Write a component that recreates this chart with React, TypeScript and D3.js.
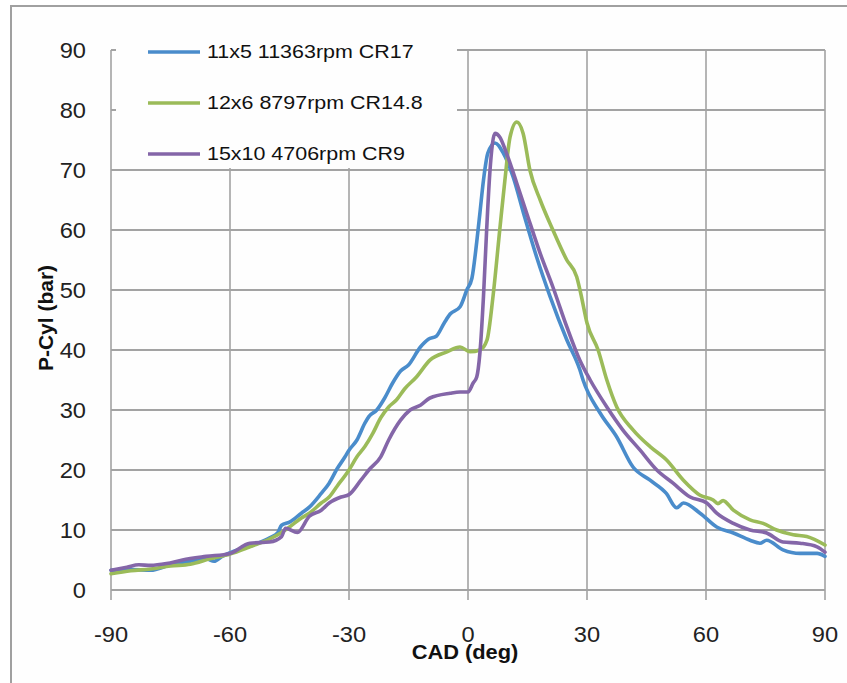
import React from "react";
import * as d3 from "d3";

const W = 847;
const H = 683;

const xTicks = [-90, -60, -30, 0, 30, 60, 90];
const yTicks = [0, 10, 20, 30, 40, 50, 60, 70, 80, 90];

const seriesNames = ["11x5 11363rpm CR17", "12x6 8797rpm CR14.8", "15x10 4706rpm CR9"];
const seriesColors = ["#4a8ccb", "#9bbb59", "#8466a8"];

const blue: [number, number][] = [
  [-90, 3.3], [-85, 3.4], [-80, 3.3], [-75, 4.2], [-70, 4.8], [-66, 5.2], [-64, 4.8], [-62, 5.6],
  [-60, 6.2], [-55, 7.3], [-50, 8.7], [-48, 9.5], [-47, 10.8], [-45, 11.3], [-42, 12.8], [-40, 13.8],
  [-37, 16.1], [-35, 17.8], [-33, 20.2], [-31, 22.2], [-30, 23.3], [-28, 25], [-26, 27.8], [-25, 28.9],
  [-23, 30], [-21, 32], [-19, 34.5], [-17, 36.5], [-15, 37.5], [-12, 40.5], [-10, 41.8], [-8, 42.3],
  [-6, 44.5], [-4.5, 46], [-2, 47.2], [-0.3, 50], [1, 52], [2.2, 58], [3, 62.8], [3.9, 68.3],
  [5, 72.8], [6.8, 74.5], [8.9, 72.8], [11.4, 68.8], [14, 62.8], [17.3, 55.5], [20.7, 48.9],
  [24.9, 41.7], [28.2, 36.7], [29, 35], [33.3, 29.5], [37.5, 25.5], [41.6, 20.5], [45.9, 18.3],
  [50, 16.1], [52.6, 13.7], [54.3, 14.5], [58.5, 12.8], [62.7, 10.5], [66.9, 9.5], [71.1, 8.3],
  [73.6, 7.8], [75.3, 8.3], [79.4, 6.7], [83.7, 6.1], [88, 6.1], [90, 5.6],
];

const green: [number, number][] = [
  [-90, 2.7], [-85, 3.2], [-80, 3.5], [-75, 4], [-70, 4.3], [-65, 5.2], [-60, 6], [-55, 7.2],
  [-50, 8.5], [-47, 9.6], [-45, 10.5], [-42, 12], [-40, 12.8], [-37, 14.5], [-35, 15.5], [-33, 17.3],
  [-30, 20], [-28, 22.2], [-26, 23.9], [-24, 26.1], [-22, 28.7], [-20, 30.5], [-18, 31.7], [-16, 33.5],
  [-13, 35.5], [-9.6, 38.3], [-5.3, 39.7], [-2, 40.5], [0.5, 39.7], [3, 40], [4.8, 41.7], [6.3, 48.9],
  [8, 60], [9.3, 68.3], [10.6, 75.5], [12.3, 78], [13.9, 76.1], [15.6, 70], [18.2, 65], [21.4, 60],
  [24.9, 55], [27.4, 52.2], [28.4, 49.5], [30, 44.5], [32.8, 40], [35, 35], [37.5, 30.5], [41.6, 26.7],
  [45.9, 23.9], [50, 21.7], [54.3, 18.3], [58.5, 15.8], [61.8, 15], [63, 14.4], [64.3, 14.9],
  [66.9, 13.3], [71.1, 11.7], [74.4, 11.1], [77.8, 10], [82, 9.2], [85.4, 8.9], [90, 7.5],
];

const purple: [number, number][] = [
  [-90, 3.3], [-86, 3.8], [-83, 4.2], [-80, 4.1], [-76, 4.4], [-72, 5], [-66, 5.6], [-60, 6.1],
  [-55, 7.8], [-50, 8], [-47, 8.9], [-46, 10.3], [-43, 9.6], [-40, 12.3], [-37, 13.3], [-35, 14.5],
  [-32, 15.5], [-30, 15.9], [-27, 18.3], [-25, 20], [-22, 22.2], [-20, 25], [-17, 28.3], [-14.6, 30],
  [-12, 30.8], [-9.6, 32], [-4.5, 32.8], [-2, 33], [0, 33], [1.3, 34.5], [2.2, 35.5], [3, 39.5],
  [3.9, 48.9], [4.7, 60], [5.5, 69.5], [6.8, 76.1], [8, 75.5], [9.7, 72.8], [12.3, 67.8], [14.8, 62.8],
  [18.2, 56.1], [21.4, 50.5], [24.9, 43.9], [28.2, 38.3], [30.8, 35], [35, 30.5], [39, 26.7],
  [43.4, 23.3], [47.6, 20], [51.7, 17.8], [56, 15.5], [60.2, 14.5], [62.7, 12.8], [66.9, 11.1],
  [71.1, 10], [75.3, 9.5], [79.4, 8], [83.7, 7.8], [88, 7.2], [90, 6.3],
];

const allSeries = [blue, green, purple];

const FONT = "'Liberation Sans', Arial, sans-serif";

export default function App() {
  const x = d3.scaleLinear().domain([-90, 90]).range([111, 825]);
  const y = d3.scaleLinear().domain([0, 90]).range([590, 50]);
  const line = d3
    .line<[number, number]>()
    .x((d) => x(d[0]))
    .y((d) => y(d[1]))
    .curve(d3.curveMonotoneX);

  const gridColor = "#a3a3a3";
  const sx = 1.1;

  return (
    <svg
      width={W}
      height={H}
      style={{ position: "absolute", left: 0, top: 0, background: "#fff" }}
    >
      <rect x={0} y={0} width={W} height={H} fill="#fff" />
      <rect x={11} y={6} width={W + 20} height={H + 20} fill="#fefefe" stroke="#a0a0a0" strokeWidth={2} />

      {/* vertical grid */}
      {xTicks.map((t) => (
        <line key={"vx" + t} x1={x(t)} x2={x(t)} y1={y(90)} y2={y(0) + 10} stroke={gridColor} strokeWidth={1.6} />
      ))}
      {/* horizontal grid */}
      {yTicks.map((t) => (
        <line key={"hy" + t} x1={x(-90)} x2={x(90)} y1={y(t)} y2={y(t)} stroke={gridColor} strokeWidth={2} />
      ))}

      {/* series */}
      {allSeries.map((s, i) => (
        <path
          key={"s" + i}
          d={line(s) || ""}
          fill="none"
          stroke={seriesColors[i]}
          strokeWidth={3.6}
          strokeLinejoin="round"
          strokeLinecap="round"
        />
      ))}

      {/* legend */}
      <rect x={116} y={30} width={341} height={138} fill="#fefefe" />
      {seriesNames.map((n, i) => {
        const ly = 52 + i * 51;
        return (
          <g key={"lg" + i}>
            <line x1={148} x2={200} y1={ly} y2={ly} stroke={seriesColors[i]} strokeWidth={3.6} />
            <text
              transform={`translate(207,${ly + 6}) scale(1.16,1)`}
              fontFamily={FONT}
              fontSize={18.5}
              fill="#111"
            >
              {n}
            </text>
          </g>
        );
      })}

      {/* y tick labels */}
      {yTicks.map((t) => (
        <text
          key={"yl" + t}
          transform={`translate(86,${y(t) + 8}) scale(${sx},1)`}
          textAnchor="end"
          fontFamily={FONT}
          fontSize={21.5}
          fill="#222"
        >
          {t}
        </text>
      ))}

      {/* x tick labels */}
      {xTicks.map((t) => (
        <text
          key={"xl" + t}
          transform={`translate(${x(t)},642) scale(${sx},1)`}
          textAnchor="middle"
          fontFamily={FONT}
          fontSize={21.5}
          fill="#222"
        >
          {t}
        </text>
      ))}

      {/* axis titles */}
      <text
        transform="translate(465,659) scale(1.12,1)"
        textAnchor="middle"
        fontFamily={FONT}
        fontWeight="bold"
        fontSize={19.5}
        fill="#111"
      >
        CAD (deg)
      </text>
      <text
        transform="translate(53,318) rotate(-90)"
        textAnchor="middle"
        fontFamily={FONT}
        fontWeight="bold"
        fontSize={21}
        fill="#111"
      >
        P-Cyl (bar)
      </text>
    </svg>
  );
}
